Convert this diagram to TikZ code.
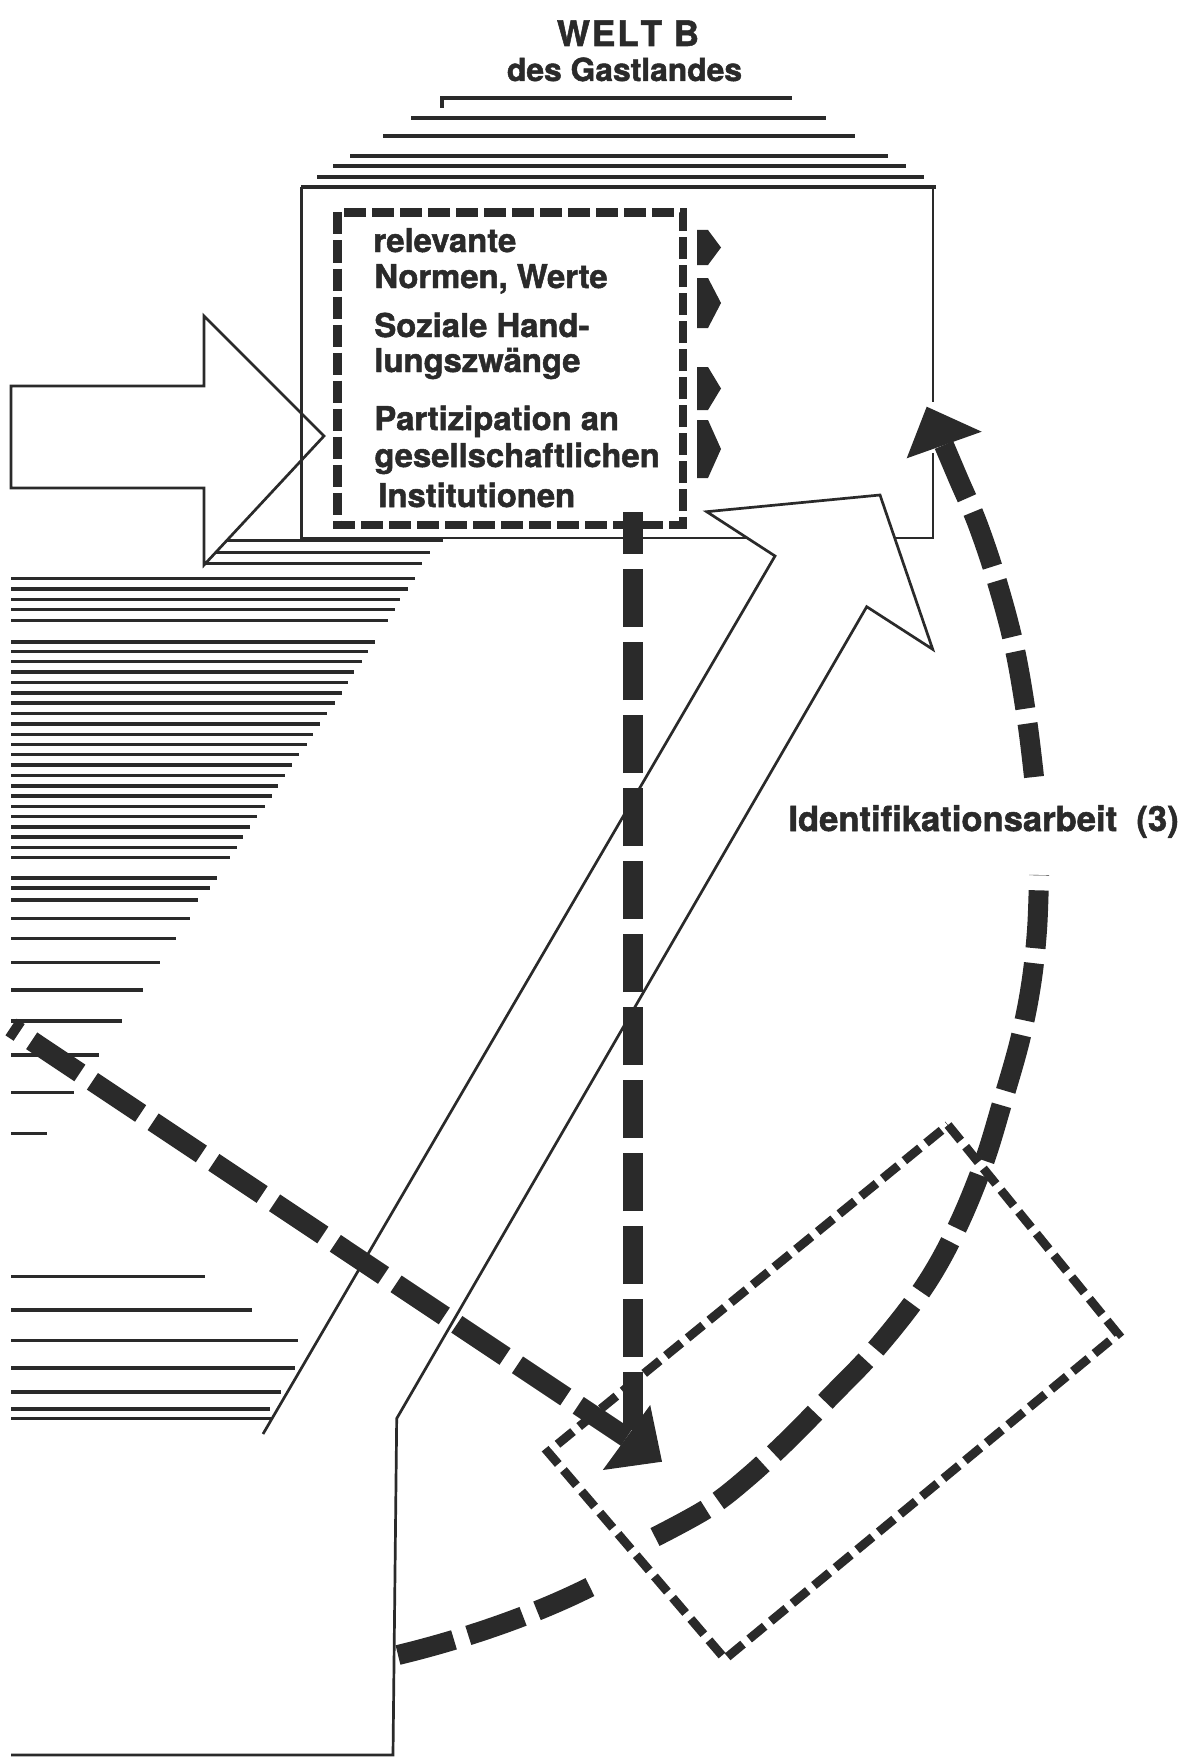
\documentclass[tikz,border=0pt]{standalone}
\usepackage{fontspec}
\setmainfont{TeX Gyre Heros}[BoldFeatures={FakeBold=1.5}]
\definecolor{ink}{HTML}{2A2A2A}
\begin{document}
\begin{tikzpicture}[x=0.5pt,y=-0.5pt,line join=miter]
\tikzset{
  outl/.style={draw=ink,line width=1.35pt},
  hatchl/.style={draw=ink,line width=1.7pt},
  thickdash/.style={draw=ink,line width=10pt,dash pattern=on 29pt off 7.5pt},
  boxdash/.style={draw=ink,line width=4.25pt,dash pattern=on 11pt off 3pt},
  rectdash/.style={draw=ink,line width=4.4pt,dash pattern=on 10pt off 4pt},
  headfill/.style={fill=ink,draw=none},
  lbl/.style={inner sep=0pt,anchor=base west,text=ink,font=\bfseries\fontsize{16.4}{19}\selectfont},
  ttl/.style={inner sep=0pt,anchor=base,text=ink},
}
\useasboundingbox (0,0) rectangle (1188,1760);

% title
\node[ttl,font=\bfseries\fontsize{17.5}{20}\selectfont] (w1) at (628,46) {W\kern1pt E\kern1pt L\kern1pt T\kern1pt\ B};
\node[ttl,font=\bfseries\fontsize{15.9}{19}\selectfont] (w2) at (624.5,81) {des Gastlandes};

% top hatching
\draw[hatchl] (442,108) -- (442,98) -- (792,98);
\foreach \y/\a/\b in {118/411/826,136/383/855,156/350/888,166/333/906,177/317/924,187/301/936}
  \draw[hatchl] (\a,\y) -- (\b,\y);

% outer box
\draw[outl] (301.7,187) -- (301.7,538) -- (747,538);
\draw[outl] (933,187) -- (933,402);
\draw[outl] (933,453) -- (933,538) -- (895,538);

% inner dashed box
\draw[boxdash] (337.5,212.5) rectangle (683,525);

% small arrows
\foreach \t/\b in {230/265,278/328,367/410,420/478}
  \fill[headfill] (697,\t) -- (708,\t) -- (721,{(\t+\b)/2}) -- (708,\b) -- (697,\b) -- cycle;

% box text
\node[lbl] (t1) at (373,252) {relevante};
\node[lbl] (t2) at (374,288) {Normen, Werte};
\node[lbl] (t3) at (374,337) {Soziale Hand-};
\node[lbl] (t4) at (374,372) {lungszwänge};
\node[lbl] (t5) at (374,430) {Partizipation an};
\node[lbl] (t6) at (374,467) {gesellschaftlichen};
\node[lbl] (t7) at (378,507) {Institutionen};

% left white arrow
\draw[outl] (11,386) -- (204,386) -- (204,316) -- (324,436) -- (204,565) -- (204,488) -- (11,488) -- cycle;

% lower-left hatching
\draw[hatchl] (227,540.3) -- (443,540.3);
\draw[hatchl] (215.5,552.6) -- (430,552.6);
\draw[hatchl] (206,563.3) -- (421.7,563.3);
\foreach \y/\b in {578.6/415,589/408,599.3/400,609.2/395,620.7/388,641.8/375,651.3/368,661.7/361.7,672/354,682.7/348,693/341.7,703/335,713.3/326.7,724/320,734.4/313.3,744.3/306.7,754.3/299,765/291.7,775.7/285,786/278.3,796/271.7,806.3/265,816.6/257.3,827/250,837/243.3,847.3/237.3,857.6/230,878/217,888/210,900/198,918.3/190,938.3/176,962.7/160,990/142.7,1021/121.7,1055/99.3,1092.7/74,1133.3/46.7,1276.5/205,1310/252,1340.7/298,1368/295,1392/281,1408.8/270,1418.5/273}
  \draw[hatchl] (11,\y) -- (\b,\y);

% big white arrow up-right
\draw[outl] (263,1434) -- (775,556) -- (706.7,511.7) -- (880,495) -- (932.7,649.3) -- (866.7,606.7) -- (396.7,1418.5) -- (393,1755) -- (11,1755);

% dashed rotated rectangle
\draw[rectdash] (948,1125) -- (1118,1334) -- (725,1659) -- (548,1452) -- cycle;

% vertical thick dashed arrow
\coordinate (vtop) at (633,511.7);
\coordinate (vbot) at (633,1430);
\draw[thickdash] (vbot) -- (vtop);

% diagonal thick dashed arrow
\coordinate (dstart) at (11,1027);
\coordinate (dend) at (626.5,1437.5);
\draw[thickdash] (dend) -- (dstart);
\fill[headfill] (602.8,1470) -- (650.2,1405) -- (662,1461.7) -- cycle;

% curved thick dashed arrow (Identifikationsarbeit)
\draw[thickdash] (398,1655) .. controls (460,1640) and (530,1617) .. (590,1587);
\draw[thickdash] plot[smooth,tension=0.6] coordinates {(655,1537) (708,1508) (748,1477) (790,1438) (830,1397) (875,1350) (922,1290) (955,1232) (983,1165) (1003,1100) (1020,1040) (1031,985) (1037,930) (1039,875)};
\draw[thickdash] plot[smooth,tension=0.6] coordinates {(944,445) (958,478) (978,525) (998,585) (1015,650) (1027,720) (1034,777)};
\fill[headfill] (906.7,458.3) -- (926.7,406.7) -- (981.7,431.7) -- cycle;

\node[lbl,font=\bfseries\fontsize{17.3}{20}\selectfont] (idt) at (788,831) {Identifikationsarbeit\ \ (3)};
\end{tikzpicture}
\end{document}
